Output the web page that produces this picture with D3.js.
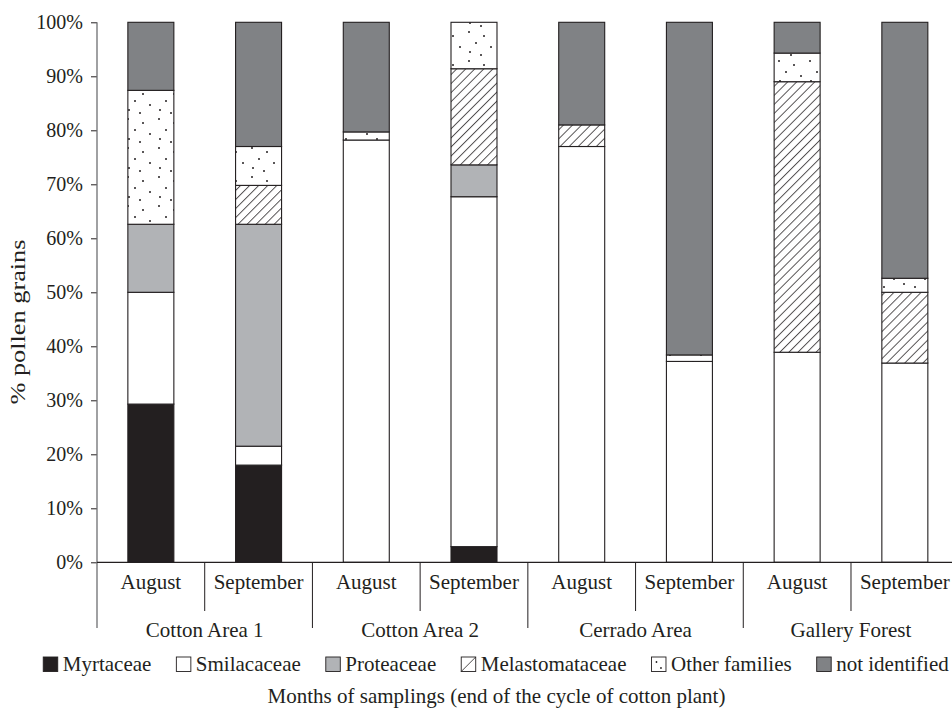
<!DOCTYPE html>
<html>
<head>
<meta charset="utf-8">
<script src="https://cdn.jsdelivr.net/npm/d3@7"></script>
<style>
  body { margin: 0; background: #fff; }
  svg { display: block; font-family: "Liberation Serif", "Times New Roman", serif; }
</style>
</head>
<body>
<div id="chart"></div>
<script>
// sampling months and areas
const months = ["August", "September", "August", "September", "August", "September", "August", "September"];
const areas = ["Cotton Area 1", "Cotton Area 2", "Cerrado Area", "Gallery Forest"];

// % pollen grains per family, one value per sample (same order as months)
const myrtaceae       = [29.3, 18.0,  0.0,  2.9,  0.0,  0.0,  0.0,  0.0];
const smilacaceae     = [20.7,  3.5, 78.2, 64.8, 77.0, 37.2, 38.9, 36.9];
const proteaceae      = [12.6, 41.1,  0.0,  5.9,  0.0,  0.0,  0.0,  0.0];
const melastomataceae = [ 0.0,  7.2,  0.0, 17.8,  4.0,  0.0, 50.1, 13.1];
const otherFamilies   = [24.8,  7.2,  1.5,  8.6,  0.0,  1.2,  5.3,  2.6];
const notIdentified   = [12.6, 23.0, 20.3,  0.0, 19.0, 61.6,  5.7, 47.4];

const families = ["Myrtaceae", "Smilacaceae", "Proteaceae", "Melastomataceae", "Other families", "not identified"];
const yTicks = [0, 10, 20, 30, 40, 50, 60, 70, 80, 90, 100];

const width = 952, height = 709;
const margin = {left: 97, top: 22.3, bottom: 562.3};
const plotRight = 958.7; // last slot runs past the picture edge

// build rows for d3.stack
const series = [myrtaceae, smilacaceae, proteaceae, melastomataceae, otherFamilies, notIdentified];
const rows = months.map((m, i) => {
    const r = {id: i};
    families.forEach((f, k) => { r[f] = series[k][i]; });
    return r;
});

const svg = d3.select("#chart").append("svg")
    .attr("width", width)
    .attr("height", height);

svg.append("rect").attr("width", width).attr("height", height).attr("fill", "#fff");

// fill patterns
const defs = svg.append("defs");
const hatch = defs.append("pattern")
    .attr("id", "hatch")
    .attr("patternUnits", "userSpaceOnUse")
    .attr("width", 6.4)
    .attr("height", 10)
    .attr("patternTransform", "rotate(45)");
hatch.append("rect").attr("width", 6.4).attr("height", 10).attr("fill", "#fff");
hatch.append("line")
    .attr("x1", 0.5).attr("y1", 0).attr("x2", 0.5).attr("y2", 10)
    .attr("stroke", "#231f20").attr("stroke-width", 0.8);

const dots = defs.append("pattern")
    .attr("id", "dots")
    .attr("patternUnits", "userSpaceOnUse")
    .attr("width", 31)
    .attr("height", 29);
dots.append("rect").attr("width", 31).attr("height", 29).attr("fill", "#fff");
[[4, 3], [19, 7], [11, 14], [26, 18], [5, 23], [16, 26]].forEach(p => {
    dots.append("circle").attr("cx", p[0]).attr("cy", p[1]).attr("r", 1).attr("fill", "#231f20");
});

const fills = {
    "Myrtaceae": "#231f20",
    "Smilacaceae": "#ffffff",
    "Proteaceae": "#b1b3b6",
    "Melastomataceae": "url(#hatch)",
    "Other families": "url(#dots)",
    "not identified": "#808285"
};

// scales
const x = d3.scaleBand()
    .domain(d3.range(months.length))
    .range([margin.left, plotRight])
    .paddingInner(0.573)
    .paddingOuter(0.2865);
const step = x.step();

const y = d3.scaleLinear()
    .domain([0, 100])
    .range([margin.bottom, margin.top]);

// stacked bars
const stacked = d3.stack().keys(families)(rows);

const layers = svg.append("g").selectAll("g")
    .data(stacked)
    .enter().append("g")
    .attr("fill", d => fills[d.key]);

layers.selectAll("rect")
    .data(d => d.filter(s => s[1] - s[0] > 0))
    .enter().append("rect")
    .attr("x", d => x(d.data.id))
    .attr("y", d => y(d[1]))
    .attr("width", x.bandwidth())
    .attr("height", d => y(d[0]) - y(d[1]))
    .attr("stroke", "#231f20")
    .attr("stroke-width", 1.1);

// y axis
const yAxis = svg.append("g")
    .attr("transform", `translate(${margin.left},0)`)
    .call(d3.axisLeft(y).tickValues(yTicks).tickSize(6).tickPadding(8).tickFormat(d => d + "%"));
yAxis.select(".domain").remove();
yAxis.selectAll(".tick line").attr("stroke", "#231f20");
yAxis.selectAll(".tick text")
    .attr("fill", "#231f20")
    .style("font-size", "20px")
    .style("font-family", "'Liberation Serif', serif");

svg.append("line")
    .attr("x1", margin.left).attr("x2", margin.left)
    .attr("y1", y(100)).attr("y2", 628)
    .attr("stroke", "#6d6e71").attr("stroke-width", 1.3);

// x axis baseline
svg.append("line")
    .attr("x1", margin.left).attr("x2", plotRight)
    .attr("y1", y(0)).attr("y2", y(0))
    .attr("stroke", "#231f20").attr("stroke-width", 1.3);

// separators between months and between areas
d3.range(1, months.length + 1).forEach(i => {
    const bx = margin.left + i * step;
    svg.append("line")
        .attr("x1", bx).attr("x2", bx)
        .attr("y1", y(0)).attr("y2", i % 2 === 0 ? 628 : 611)
        .attr("stroke", "#231f20").attr("stroke-width", 1);
});

// month labels
svg.append("g").selectAll("text")
    .data(months)
    .enter().append("text")
    .attr("x", (d, i) => x(i) + x.bandwidth() / 2)
    .attr("y", 589)
    .attr("text-anchor", "middle")
    .attr("fill", "#231f20")
    .style("font-size", "21px")
    .text(d => d);

// area labels
svg.append("g").selectAll("text")
    .data(areas)
    .enter().append("text")
    .attr("x", (d, i) => margin.left + (2 * i + 1) * step)
    .attr("y", 636.5)
    .attr("text-anchor", "middle")
    .attr("fill", "#231f20")
    .style("font-size", "21px")
    .text(d => d);

// y axis title
svg.append("text")
    .attr("transform", "translate(25,322) rotate(-90)")
    .attr("text-anchor", "middle")
    .attr("fill", "#231f20")
    .attr("textLength", 165)
    .attr("lengthAdjust", "spacingAndGlyphs")
    .style("font-size", "22px")
    .text("% pollen grains");

// x axis title
svg.append("text")
    .attr("x", 496.5)
    .attr("y", 703)
    .attr("text-anchor", "middle")
    .attr("fill", "#231f20")
    .style("font-size", "21px")
    .text("Months of samplings (end of the cycle of cotton plant)");

// legend
const legend = svg.append("g");
const box = 14.5, boxGap = 5, itemGap = 25;
const items = legend.selectAll("g")
    .data(families)
    .enter().append("g");

items.append("text")
    .attr("x", box + boxGap)
    .attr("y", 671)
    .attr("fill", "#231f20")
    .style("font-size", "21px")
    .text(d => d);

let widths = [];
items.each(function () { widths.push(this.querySelector("text").getComputedTextLength()); });
const total = d3.sum(widths, w => box + boxGap + w) + itemGap * (families.length - 1);
let cursor = 496 - total / 2;
items.attr("transform", (d, i) => {
    const t = `translate(${cursor},0)`;
    cursor += box + boxGap + widths[i] + itemGap;
    return t;
});

items.append("rect")
    .attr("x", 0)
    .attr("y", 657)
    .attr("width", box)
    .attr("height", box)
    .attr("fill", d => (d === "Melastomataceae" || d === "Other families") ? "#fff" : fills[d])
    .attr("stroke", "#231f20")
    .attr("stroke-width", 0.9);

items.filter(d => d === "Melastomataceae").append("line")
    .attr("x1", 0).attr("y1", 657 + box).attr("x2", box).attr("y2", 657)
    .attr("stroke", "#231f20").attr("stroke-width", 0.8);

items.filter(d => d === "Other families").selectAll("circle")
    .data([[5, 662], [9.5, 668]])
    .enter().append("circle")
    .attr("cx", d => d[0]).attr("cy", d => d[1]).attr("r", 0.9)
    .attr("fill", "#231f20");
</script>
</body>
</html>
